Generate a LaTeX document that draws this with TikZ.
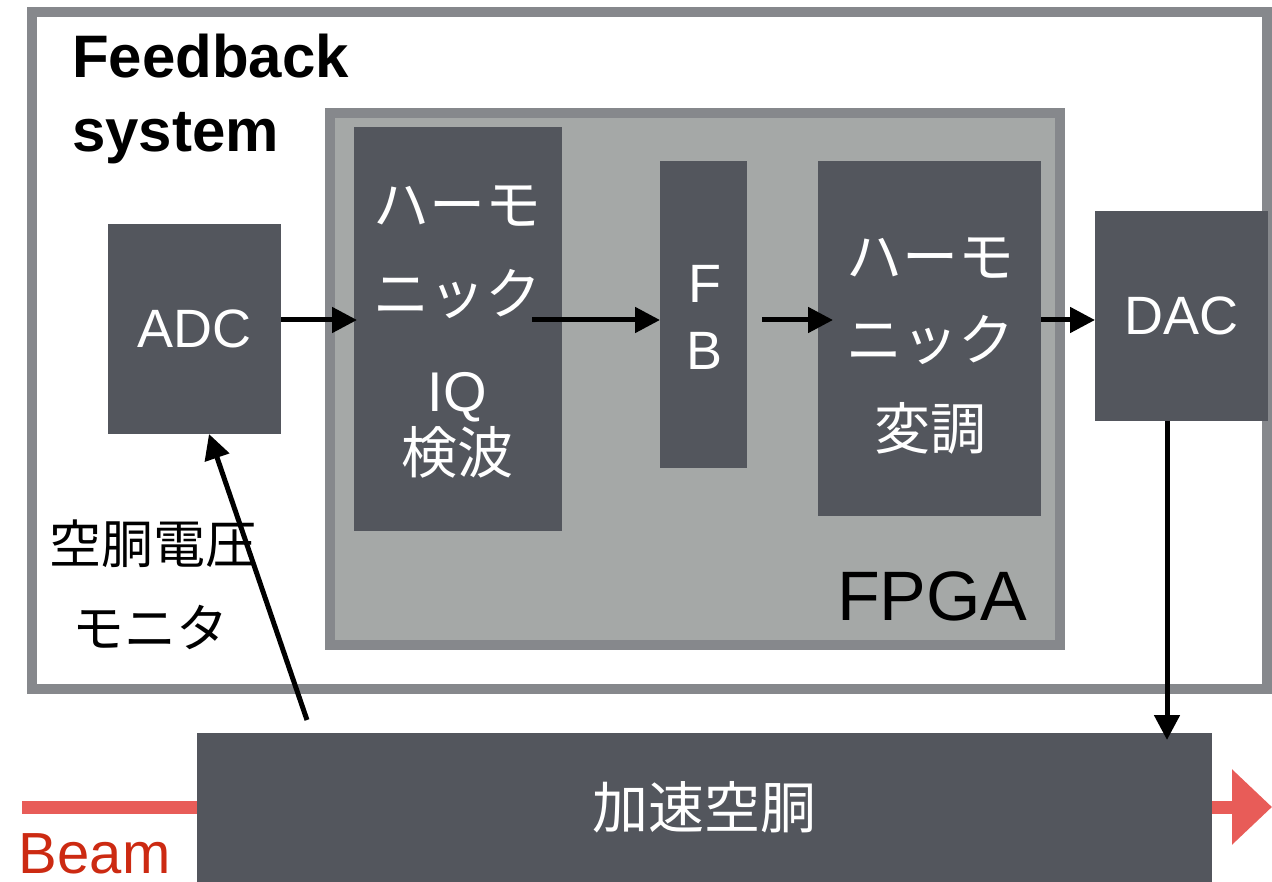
\documentclass[tikz,border=0pt]{standalone}
\usepackage{fontspec}
\setmainfont{Liberation Sans}
\newfontfamily\jp{Noto Sans CJK JP}
\usetikzlibrary{arrows.meta,calc}
\definecolor{boxdark}{RGB}{83,86,93}
\definecolor{fpgafill}{RGB}{165,168,167}
\definecolor{framegray}{RGB}{134,136,140}
\definecolor{beamred}{RGB}{204,42,18}
\definecolor{brushred}{RGB}{232,92,88}
\newcommand\FSz[1]{\fontsize{#1}{#1}\selectfont}
\begin{document}
\begin{tikzpicture}[x=1pt,y=-1pt,
  darkbox/.style={fill=boxdark,draw=none,inner sep=0pt,outer sep=0pt,text=white},
  frame/.style={draw=framegray,line width=10pt,inner sep=0pt,outer sep=0pt},
  txt/.style={inner sep=0pt,outer sep=0pt},
  wtxt/.style={txt,text=white},
  arr/.style={line width=5pt,-{Triangle[length=25pt,width=25pt]}},
  brush/.style={draw=brushred,line width=13pt}]
\useasboundingbox (0,0) rectangle (1272,882);
% frames
\node[frame,fill=white,minimum width=1235pt,minimum height=677pt] (fbsys) at (649.5,350.5) {};
\node[frame,fill=fpgafill,minimum width=730pt,minimum height=532pt] (fpga) at (695,379) {};
% boxes
\node[darkbox,minimum width=173pt,minimum height=210pt,font=\FSz{54}] (adc) at (194.5,329) {ADC};
\node[darkbox,minimum width=208pt,minimum height=404pt] (iq) at (458,329) {};
\node[darkbox,minimum width=87pt,minimum height=307pt] (fb) at (703.5,314.5) {};
\node[darkbox,minimum width=223pt,minimum height=355pt] (mod) at (929.5,338.5) {};
\node[darkbox,minimum width=173pt,minimum height=210pt,font=\FSz{54}] (dac) at (1181.5,316) {DAC};
\node[darkbox,minimum width=1015pt,minimum height=149pt,font=\jp\FSz{56}] (cav) at (704.5,807.5) {加速空胴};
% texts
\node[txt,anchor=base west,font=\bfseries\FSz{60}] (t1) at (72,78) {Feedback};
\node[txt,anchor=base west,font=\bfseries\FSz{60}] (t2) at (72,152) {system};
\node[txt,anchor=base west,font=\FSz{70}] (tf) at (837,620) {FPGA};
\node[wtxt,font=\jp\FSz{56}] (iq1) at (457,206) {ハーモ};
\node[wtxt,font=\jp\FSz{56}] (iq2) at (457,294) {ニック};
\node[wtxt,anchor=base,font=\FSz{56}] (iq3) at (457,412) {IQ};
\node[wtxt,font=\jp\FSz{56}] (iq4) at (457,452) {検波};
\node[wtxt,anchor=base,font=\FSz{54}] (fb1) at (705,303) {F};
\node[wtxt,anchor=base,font=\FSz{54}] (fb2) at (705,370) {B};
\node[wtxt,font=\jp\FSz{56}] (m1) at (930,258) {ハーモ};
\node[wtxt,font=\jp\FSz{56}] (m2) at (930,340) {ニック};
\node[wtxt,font=\jp\FSz{56}] (m3) at (930,428) {変調};
\node[txt,font=\jp\FSz{52}] (mon1) at (153,544) {空胴電圧};
\node[txt,font=\jp\FSz{52}] (mon2) at (150,627) {モニタ};
\node[txt,anchor=base west,text=beamred,font=\FSz{58}] (beam) at (19,873) {Beam};
% connectors
\coordinate (ay) at (0,320);
\coordinate (dx) at (1167,0);
\coordinate (bl) at (22,807);
\coordinate (br) at (1272,807);
\draw[arr] (adc.east |- ay) -- ($(iq.west |- ay)+(3,0)$);
\draw[arr] ($(iq.east |- ay)+(-30,0)$) -- (fb.west |- ay);
\draw[arr] ($(fb.east |- ay)+(15,0)$) -- ($(mod.west |- ay)+(15,0)$);
\draw[arr] (mod.east |- ay) -- (dac.west |- ay);
\draw[arr] (dac.south -| dx) -- ($(cav.north -| dx)+(0,7)$);
\draw[arr] ($(cav.north west)+(110,-13)$) -- ($(adc.south)+(14.5,0)$);
% beam
\draw[brush] (bl) -- (cav.west |- bl);
\draw[brush,-{Triangle[length=40pt,width=73pt]}] (cav.east |- br) -- (br);
\end{tikzpicture}
\end{document}
